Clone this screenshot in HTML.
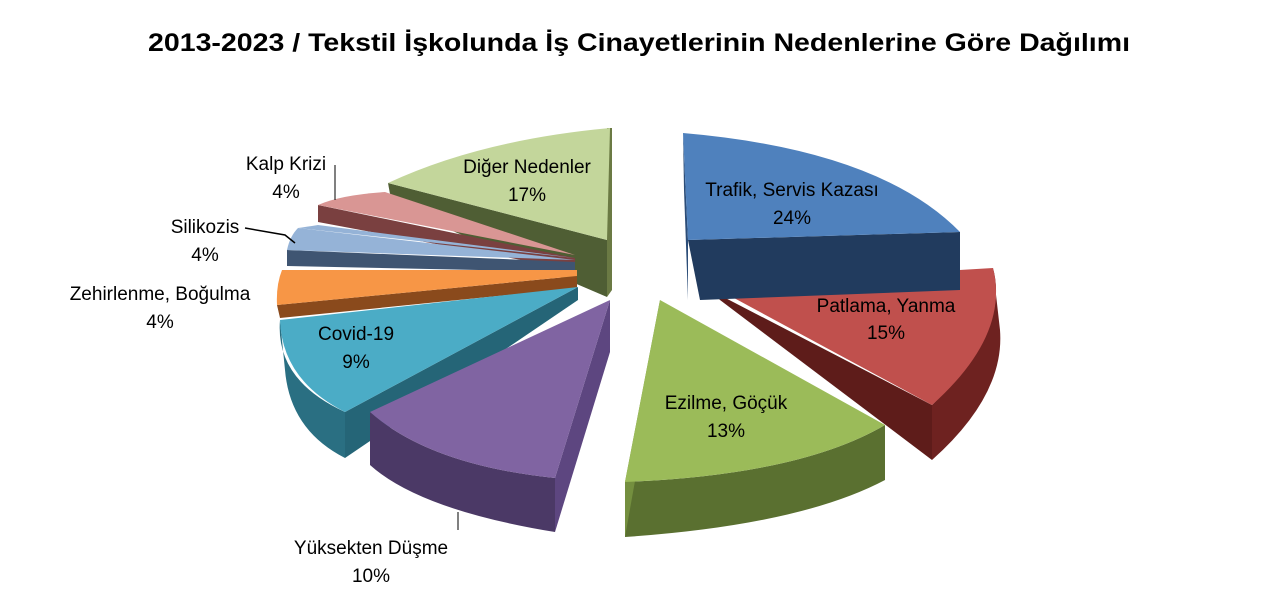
<!DOCTYPE html>
<html><head><meta charset="utf-8"><style>
body{margin:0;background:#fff;width:1280px;height:607px;overflow:hidden}
svg{display:block}
text{font-family:"Liberation Sans",sans-serif;fill:#000}
</style></head><body>
<svg width="1280" height="607" viewBox="0 0 1280 607">
<text x="148" y="51" font-size="25" font-weight="bold" textLength="982" lengthAdjust="spacingAndGlyphs">2013-2023 / Tekstil İşkolunda İş Cinayetlerinin Nedenlerine Göre Dağılımı</text>

<!-- Diğer side faces -->
<polygon points="388,183 607,240 607,297 392,205" fill="#4f5e34"/>
<polygon points="607,128 612,128 612,290 607,297" fill="#6b7a44"/>
<path d="M388,183 Q480,140 610,128 L607,240 Z" fill="#c3d69b"/>

<!-- Kalp -->
<polygon points="318,205 575,258 575,270 318,222" fill="#7a4040"/>
<path d="M318,205 Q340,195 385,192 L575,255 Z" fill="#d99694"/>

<!-- Silikozis -->
<polygon points="287,250 575,262 575,272 287,266" fill="#3f5572"/>
<path d="M287,250 Q290,236 298,228 L575,260 Z" fill="#95b3d7"/>
<path d="M298,228 Q305,227 318,225 L575,258 Z" fill="#95b3d7"/>

<!-- Orange -->
<polygon points="277,305 577,276 577,288 280,318" fill="#8a4a1c"/>
<path d="M277,305 Q276,285 282,270 L577,270 L577,276 Z" fill="#f79646"/>

<!-- Covid -->
<path d="M280,320 Q275,380 345,412 L345,458 Q290,430 285,370 Z" fill="#2a6f82"/>
<polygon points="345,412 578,287 578,300 345,458" fill="#256577"/>
<path d="M280,320 L578,287 L345,412 Q282,380 280,320 Z" fill="#4bacc6"/>

<!-- Purple -->
<path d="M370,412 L370,465 Q420,510 555,532 L555,478 Q430,465 370,412 Z" fill="#4b3966"/>
<polygon points="555,478 610,300 610,352 555,532" fill="#5d4680"/>
<path d="M610,300 L370,412 Q430,465 555,478 Z" fill="#8064a2"/>

<!-- Green -->
<path d="M625,482 L625,537 Q800,525 885,480 L885,425 Q800,475 625,482 Z" fill="#5a7030"/>
<polygon points="660,300 625,482 625,537 658,352" fill="#748f3f"/>
<path d="M660,300 L885,425 Q800,475 625,482 Z" fill="#9bbb59"/>

<!-- Red -->
<path d="M993,268 Q1010,330 932,405 L932,460 Q1005,395 1000,330 Z" fill="#6e2220"/>
<polygon points="710,290 932,405 932,460 720,300" fill="#5e1c1a"/>
<path d="M710,285 L993,268 Q1010,335 932,405 Z" fill="#c0504d"/>

<!-- Blue -->
<polygon points="688,240 960,232 960,290 700,300" fill="#213b5e"/>
<polygon points="683,133 688,240 688,300 684,190" fill="#2c4d78"/>
<path d="M683,133 Q880,150 960,232 L688,240 Z" fill="#4f81bd"/>

<!-- leader lines -->
<polyline points="335,165 335,200" stroke="#000" fill="none"/>
<polyline points="245,228 285,235 295,243" stroke="#000" fill="none" stroke-width="1.5"/>
<polyline points="458,512 458,530" stroke="#000" fill="none"/>

<g font-size="19" text-anchor="middle">
<text x="792" y="196">Trafik, Servis Kazası</text><text x="792" y="224">24%</text>
<text x="886" y="312">Patlama, Yanma</text><text x="886" y="339">15%</text>
<text x="726" y="409">Ezilme, Göçük</text><text x="726" y="437">13%</text>
<text x="371" y="554">Yüksekten Düşme</text><text x="371" y="582">10%</text>
<text x="356" y="340">Covid-19</text><text x="356" y="368">9%</text>
<text x="160" y="300">Zehirlenme, Boğulma</text><text x="160" y="328">4%</text>
<text x="205" y="233">Silikozis</text><text x="205" y="261">4%</text>
<text x="286" y="170">Kalp Krizi</text><text x="286" y="198">4%</text>
<text x="527" y="173">Diğer Nedenler</text><text x="527" y="201">17%</text>
</g>
</svg>
</body></html>
